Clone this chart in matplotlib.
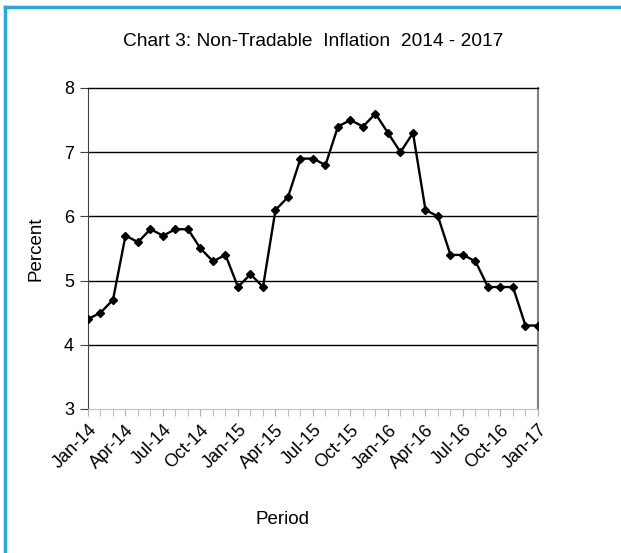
import matplotlib
matplotlib.use("Agg")
from matplotlib import pyplot as plt
from matplotlib.lines import Line2D
import numpy as np

plt.rcParams['font.family'] = ['Liberation Sans', 'DejaVu Sans']

# monthly non-tradable inflation, Jan-14 .. Jan-17
months = ["Jan-14", "Feb-14", "Mar-14", "Apr-14", "May-14", "Jun-14", "Jul-14", "Aug-14",
          "Sep-14", "Oct-14", "Nov-14", "Dec-14", "Jan-15", "Feb-15", "Mar-15", "Apr-15",
          "May-15", "Jun-15", "Jul-15", "Aug-15", "Sep-15", "Oct-15", "Nov-15", "Dec-15",
          "Jan-16", "Feb-16", "Mar-16", "Apr-16", "May-16", "Jun-16", "Jul-16", "Aug-16",
          "Sep-16", "Oct-16", "Nov-16", "Dec-16", "Jan-17"]
inflation = [4.4, 4.5, 4.7, 5.7, 5.6, 5.8, 5.7, 5.8, 5.8, 5.5, 5.3, 5.4,
             4.9, 5.1, 4.9, 6.1, 6.3, 6.9, 6.9, 6.8, 7.4, 7.5, 7.4, 7.6,
             7.3, 7.0, 7.3, 6.1, 6.0, 5.4, 5.4, 5.3, 4.9, 4.9, 4.9, 4.3, 4.3]
yticks = [3, 4, 5, 6, 7, 8]

fig = plt.figure(figsize=(6.21, 5.53), dpi=100)
ax = fig.add_axes([0.1417, 0.2604, 0.7246, 0.5805])

x = np.arange(len(months))
ax.plot(x, inflation, color="black", lw=1.7, marker="D", markersize=4.5, zorder=3)

ax.set_xlim(0, len(months) - 1)
ax.set_ylim(3, 8)
ax.set_yticks(yticks)
for v in yticks[1:-1]:
    ax.axhline(v, color="black", lw=1.0, zorder=1)

ax.set_xticks(x, minor=True)
ax.set_xticks(x[::3])
ax.set_xticklabels(months[::3], rotation=45, ha="right", rotation_mode="anchor")
ax.tick_params(axis="x", which="both", length=5, color="#b0b0b0", labelsize=13, pad=4)
ax.tick_params(axis="y", length=6, color="#404040", labelsize=13, pad=4)

ax.spines["top"].set_color("black")
ax.spines["top"].set_linewidth(1.0)
ax.spines["left"].set_color("#404040")
ax.spines["right"].set_color("#808080")
ax.spines["right"].set_linewidth(1.5)
ax.spines["bottom"].set_color("#c0c0c0")

ax.set_title("Chart 3: Non-Tradable  Inflation  2014 - 2017", fontsize=13.8, pad=30)
ax.set_ylabel("Percent", fontsize=13.5, labelpad=14)
fig.text(0.4557, 0.0597, "Period", fontsize=13.5, ha="center", va="center")

# blue frame on top and left
fig.add_artist(Line2D([0.008, 1.0], [0.987, 0.987], color="#16aee8", lw=2.5, transform=fig.transFigure))
fig.add_artist(Line2D([0.008, 0.008], [0.0, 0.987], color="#16aee8", lw=2.5, transform=fig.transFigure))

fig.savefig("out.png", dpi=100)
